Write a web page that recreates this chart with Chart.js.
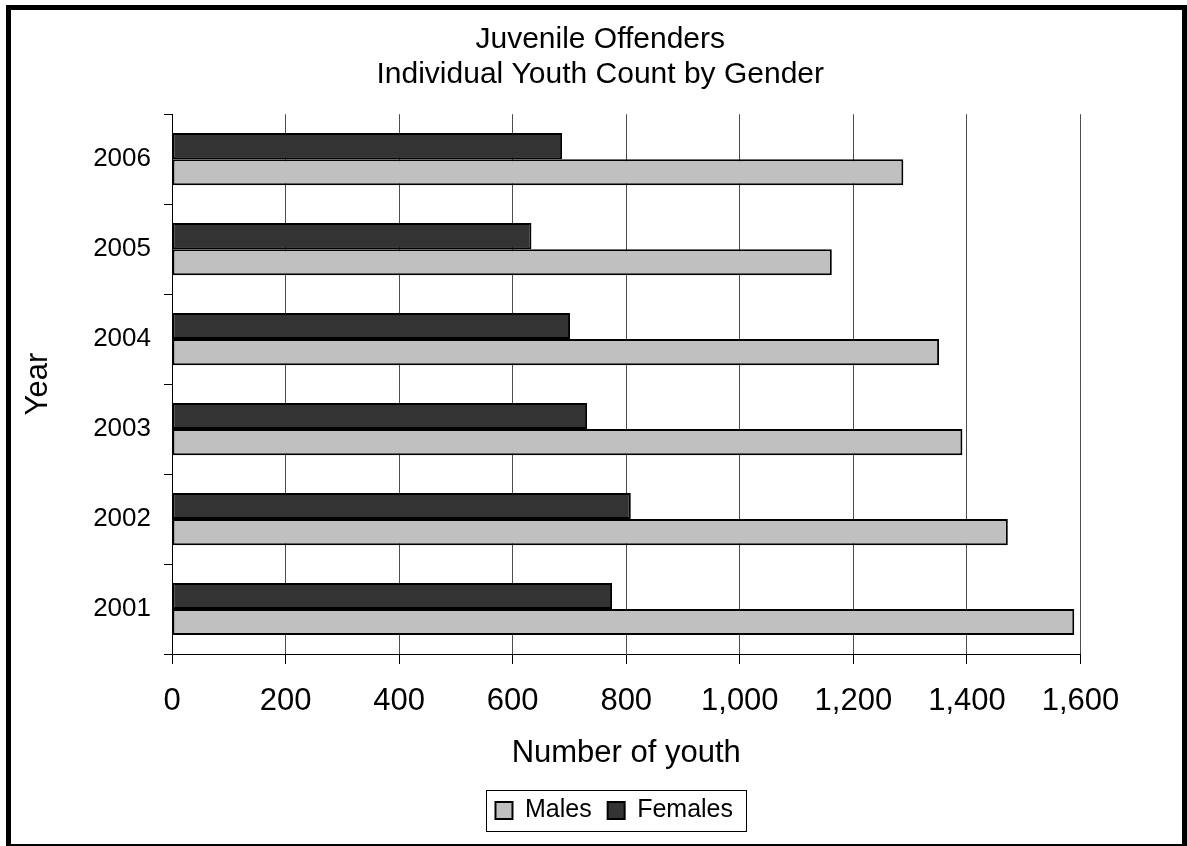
<!DOCTYPE html>
<html>
<head>
<meta charset="utf-8">
<title>Juvenile Offenders</title>
<script src="https://cdn.jsdelivr.net/npm/chart.js@4"></script>
<style>
  body { margin: 0; background: #fff; }
  #wrap { width: 1187px; height: 846px; }
</style>
</head>
<body>
<div id="wrap"><canvas id="youth-chart" width="1187" height="846"></canvas></div>
<script>
// data, top row first
var years = ["2006", "2005", "2004", "2003", "2002", "2001"];
var males = [1288, 1162, 1351, 1392, 1472, 1589];
var females = [687, 633, 701, 731, 808, 775];
var xTicks = [0, 200, 400, 600, 800, 1000, 1200, 1400, 1600];

var FONT = "'Liberation Sans', Arial, sans-serif";
Chart.defaults.font.family = FONT;
Chart.defaults.color = "#000";

// thick frame round the whole picture
var framePlugin = {
    id: "frame",
    afterDraw: function(chart) {
        var c = chart.ctx;
        c.save();
        c.strokeStyle = "#000";
        c.lineWidth = 5;
        c.strokeRect(8.5, 7.5, 1184.5 - 8.5, 846.5 - 7.5);
        c.restore();
    }
};

// move title / legend a bit so they sit where the original has them
var nudgePlugin = {
    id: "nudge",
    afterLayout: function(chart) {
        chart.titleBlock.left = 120;
        chart.legend.left -= 12;
        chart.legend.right -= 12;
    }
};

// box round the legend
var legendBoxPlugin = {
    id: "legendBox",
    afterDraw: function(chart) {
        var hb = chart.legend.legendHitBoxes;
        if (!hb || !hb.length) return;
        var first = hb[0], last = hb[hb.length - 1];
        var mid = first.top + first.height / 2;
        var x1 = Math.round(first.left - 9) + 0.5;
        var x2 = Math.round(last.left + last.width + 13) + 0.5;
        var y1 = Math.round(mid - 20.5) + 0.5;
        var y2 = Math.round(mid + 20.5) + 0.5;
        var c = chart.ctx;
        c.save();
        c.strokeStyle = "#000";
        c.lineWidth = 1;
        c.strokeRect(x1, y1, x2 - x1, y2 - y1);
        c.restore();
    }
};

var ctx = document.getElementById("youth-chart").getContext("2d");
var youthChart = new Chart(ctx, {
    type: "bar",
    data: {
        labels: years,
        datasets: [{
            label: "Females",
            data: females,
            backgroundColor: "#333333",
            borderColor: "#000",
            borderWidth: 2,
            borderSkipped: false
        }, {
            label: "Males",
            data: males,
            backgroundColor: "#C0C0C0",
            borderColor: "#000",
            borderWidth: 2,
            borderSkipped: false
        }]
    },
    options: {
        indexAxis: "y",
        responsive: false,
        animation: false,
        locale: "en-US",
        categoryPercentage: 0.58,
        barPercentage: 1.0,
        layout: { padding: { left: 0, right: 106.5, top: 0, bottom: 13 } },
        plugins: {
            tooltip: { enabled: false },
            title: {
                display: true,
                text: ["Juvenile Offenders", "Individual Youth Count by Gender"],
                font: { size: 30, weight: "normal", lineHeight: 1.17 },
                color: "#000",
                padding: { top: 22.5, bottom: 21.5 }
            },
            legend: {
                position: "bottom",
                fullSize: false,
                reverse: true,
                labels: {
                    boxWidth: 17,
                    boxHeight: 17,
                    padding: 16,
                    color: "#000",
                    font: { size: 25 }
                }
            }
        },
        scales: {
            x: {
                min: 0,
                max: 1600,
                afterBuildTicks: function(scale) {
                    scale.ticks = xTicks.map(function(v) { return { value: v }; });
                },
                afterFit: function(scale) { scale.height = 128; },
                grid: { color: "#4d4d4d", tickColor: "#000", tickLength: 10, lineWidth: 1 },
                border: { color: "#000", width: 1 },
                ticks: { padding: 19, font: { size: 31 }, color: "#000", maxRotation: 0 },
                title: {
                    display: true,
                    text: "Number of youth",
                    font: { size: 31 },
                    color: "#000",
                    padding: { top: 0, bottom: 10 }
                }
            },
            y: {
                afterFit: function(scale) { scale.width = 172; },
                grid: { drawOnChartArea: false, offset: true, color: "#000", tickLength: 8 },
                border: { color: "#000", width: 1 },
                ticks: { padding: 13, font: { size: 26 }, color: "#000" },
                title: {
                    display: true,
                    text: "Year",
                    font: { size: 31 },
                    color: "#000",
                    padding: { top: 20, bottom: 0 }
                }
            }
        }
    },
    plugins: [framePlugin, nudgePlugin, legendBoxPlugin]
});
</script>
</body>
</html>
